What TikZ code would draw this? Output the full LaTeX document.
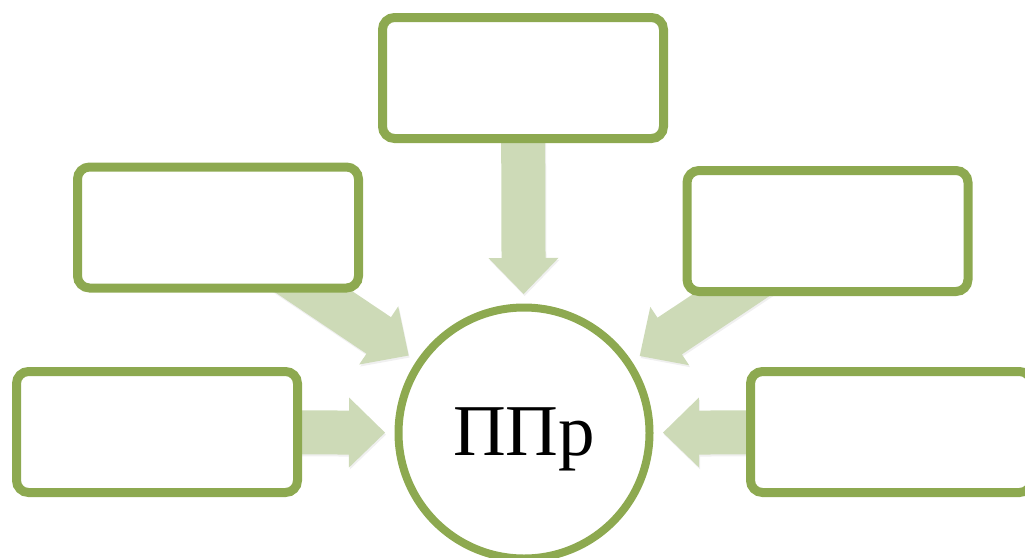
\documentclass[tikz,border=0pt]{standalone}
\usepackage{fontspec}
\setmainfont{Liberation Serif}
\usetikzlibrary{calc,backgrounds,shadows}
\definecolor{boxgreen}{RGB}{141,169,80}
\definecolor{arrowgreen}{RGB}{205,218,183}

\begin{document}
\begin{tikzpicture}[x=1pt,y=-1pt,
    box/.style={draw=boxgreen, line width=9pt, fill=white, rounded corners=12pt,
      minimum width=281pt, minimum height=121pt, inner sep=0pt,
      drop shadow={opacity=0.15, shadow xshift=1pt, shadow yshift=-3pt}},
    hub/.style={circle, draw=boxgreen, line width=8pt, fill=white,
      minimum size=251pt, inner sep=0pt},
    flow/.style={fill=arrowgreen,
      drop shadow={opacity=0.12, shadow xshift=1pt, shadow yshift=-2pt}}]
    \useasboundingbox (0,0) rectangle (1025,557);

    % centre
    \node[hub, font=\fontsize{73}{80}\selectfont, text height=60pt, text depth=16pt]
      (ppr) at (524,433) {ППр};

    % boxes round it
    \node[box] (top) at (523,78) {};
    \node[box] (ul) at (218,227.5) {};
    \node[box] (ur) at (827.5,231) {};
    \node[box] (ll) at (157,432) {};
    \node[box] (lr) at (891,432) {};

    % block arrows into the centre
    \begin{scope}[on background layer]
      \foreach \b in {top,ul,ur,ll,lr}
        \fill[flow] ($(ppr)!139pt!(\b)$)
          -- ($(ppr)!175pt!(\b)!35pt!90:(\b)$)
          -- ($(ppr)!175pt!(\b)!22pt!90:(\b)$)
          -- ($(\b)!22pt!-90:(ppr)$)
          -- ($(\b)!22pt!90:(ppr)$)
          -- ($(ppr)!175pt!(\b)!22pt!-90:(\b)$)
          -- ($(ppr)!175pt!(\b)!35pt!-90:(\b)$)
          -- cycle;
    \end{scope}
\end{tikzpicture}
\end{document}
